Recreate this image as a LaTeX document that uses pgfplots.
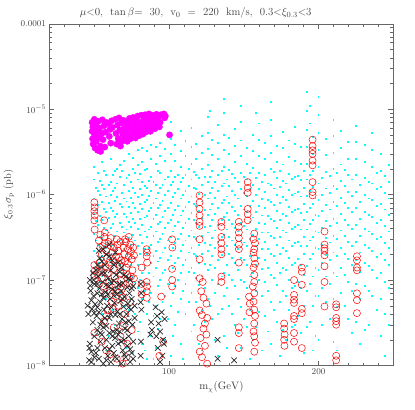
\documentclass[border=0pt]{standalone}
\usepackage{pgfplots}
\pgfplotsset{compat=1.18}
\definecolor{cy}{RGB}{0,255,255}
\definecolor{mg}{RGB}{255,0,255}
\definecolor{rd}{RGB}{255,0,0}
\begin{document}
\begin{tikzpicture}
\begin{axis}[
  name=ax,
  scale only axis,
  width=348bp, height=346bp,
  xmin=20, xmax=250,
  ymode=log, ymin=1e-8, ymax=1e-4,
  xtick={100,200},
  minor xtick={30,40,...,250},
  ytick={1e-8,1e-7,1e-6,1e-5,1e-4},
  yticklabels={$10^{-8}$,$10^{-7}$,$10^{-6}$,$10^{-5}$,$0.0001$},
  axis line style={gray!80!black, line width=0.4pt},
  every tick/.style={gray!80!black, line width=0.4pt},
  major tick length=5bp, minor tick length=3bp,
  tick label style={font=\fontsize{9.5}{11}\selectfont, text=black!75},
  xlabel={$\mathrm{m}_\chi(\mathrm{GeV})$},
  ylabel={$\xi_{0.3}\sigma_{\mathrm{p}}$ (pb)},
  label style={font=\fontsize{10.5}{12}\selectfont, text=black!75},
  title={$\mu{<}0$, \ $\tan\beta{=}$ \ 30, \ $\mathrm{v}_0$ \ = \ 220 \ km/s, \ 0.3${<}\xi_{0.3}{<}$3},
  title style={font=\fontsize{11}{13}\selectfont, text=black!75, xshift=-26bp, yshift=-4bp},
  clip=true,
]
% cyan dots
\addplot[only marks, color=cy, mark=square*, mark size=0.45pt, mark options={draw=cy, fill=cy, line width=0pt}] coordinates {
(50,2.1e-6)(50,1.5e-6)(50,9e-7)(50,6e-7)(50,3.5e-7)(50,2.2e-7)(50,1.4e-7)
(52.5,1.8e-6)(52.5,1.1e-6)(52.5,7.5e-7)(52.5,4.4e-7)(52.5,2.6e-7)(52.5,1.6e-7)(52.5,8e-8)
(55,2.4e-6)(55,1.3e-6)(55,8.2e-7)(55,5.1e-7)(55,3e-7)(55,1.9e-7)(55,1.1e-7)(55,4e-8)
(58,1.7e-6)(58,9.5e-7)(58,6.3e-7)(58,3.8e-7)(58,2.4e-7)(58,1.3e-7)(58,6e-8)(58,1.5e-8)
(61,2.6e-6)(61,1.4e-6)(61,1.0e-6)(61,7e-7)(61,4.1e-7)(61,2.8e-7)(61,1.7e-7)(61,9e-8)
(64,1.9e-6)(64,1.2e-6)(64,8.5e-7)(64,5.5e-7)(64,3.3e-7)(64,2e-7)(64,1.2e-7)(64,3e-8)
(67,2.2e-6)(67,1.6e-6)(67,7.8e-7)(67,4.6e-7)(67,2.9e-7)(67,1.5e-7)(67,7e-8)(67,2e-8)
(70,2.5e-6)(70,1.3e-6)(70,9e-7)(70,6e-7)(70,3.6e-7)(70,2.3e-7)(70,1.3e-7)(70,5e-8)
(73,3.0e-6)(73,1.7e-6)(73,1.1e-6)(73,7.2e-7)(73,4.8e-7)(73,3.1e-7)(73,1.8e-7)(73,1.0e-7)(73,4.5e-8)
(76,2.7e-6)(76,2.0e-6)(76,1.2e-6)(76,8e-7)(76,5.2e-7)(76,3.4e-7)(76,2.1e-7)(76,1.1e-7)(76,3e-8)(76,1.4e-8)
(79,3.3e-6)(79,2.2e-6)(79,1.5e-6)(79,9.3e-7)(79,6.2e-7)(79,4e-7)(79,2.5e-7)(79,1.5e-7)(79,8e-8)(79,2.5e-8)
(82,3.5e-6)(82,2.4e-6)(82,1.4e-6)(82,1.0e-6)(82,6.8e-7)(82,4.4e-7)(82,2.7e-7)(82,1.2e-7)(82,6e-8)(82,1.8e-8)
(85,3.2e-6)(85,2.0e-6)(85,1.2e-6)(85,8.6e-7)(85,5.6e-7)(85,3.2e-7)(85,2.0e-7)(85,9e-8)(85,4e-8)(85,1.2e-8)
(88,3.8e-6)(88,2.6e-6)(88,1.6e-6)(88,1.1e-6)(88,7e-7)(88,4.2e-7)(88,2.6e-7)(88,1.6e-7)(88,7e-8)(88,2.2e-8)
(91,3.6e-6)(91,2.3e-6)(91,1.3e-6)(91,9e-7)(91,5.8e-7)(91,3.7e-7)(91,2.2e-7)(91,1.4e-7)(91,5e-8)(91,1.6e-8)
(94,4.0e-6)(94,2.8e-6)(94,1.8e-6)(94,1.2e-6)(94,7.6e-7)(94,4.8e-7)(94,3e-7)(94,1.8e-7)(94,1.0e-7)(94,3.5e-8)
(97,3.4e-6)(97,2.5e-6)(97,1.5e-6)(97,1.0e-6)(97,6.5e-7)(97,4.1e-7)(97,2.4e-7)(97,1.3e-7)(97,6.5e-8)(97,2e-8)
(101,7e-6)(101,4.5e-6)(101,3e-6)(101,1.9e-6)(101,1.3e-6)(101,8e-7)(101,5e-7)(101,3.2e-7)(101,1.9e-7)(101,1.1e-7)(101,5e-8)(101,1.3e-8)
(104,3.8e-6)(104,2.5e-6)(104,1.6e-6)(104,1.05e-6)(104,6.6e-7)(104,4.3e-7)(104,2.7e-7)(104,1.6e-7)(104,8.5e-8)(104,3e-8)
(108,5.5e-6)(108,3.2e-6)(108,2.1e-6)(108,1.4e-6)(108,9e-7)(108,5.7e-7)(108,3.5e-7)(108,2.2e-7)(108,1.2e-7)(108,6e-8)(108,1.8e-8)
(111,4.2e-6)(111,2.8e-6)(111,1.7e-6)(111,1.1e-6)(111,7.2e-7)(111,4.6e-7)(111,2.9e-7)(111,1.7e-7)(111,9e-8)(111,4e-8)
(115,6.0e-6)(115,3.6e-6)(115,2.3e-6)(115,1.5e-6)(115,9.5e-7)(115,6.1e-7)(115,3.8e-7)(115,2.4e-7)(115,1.4e-7)(115,7e-8)(115,2.5e-8)
(118,3.9e-6)(118,2.6e-6)(118,1.7e-6)(118,1.15e-6)(118,7.4e-7)(118,4.7e-7)(118,3e-7)(118,1.9e-7)(118,1.05e-7)(118,5.5e-8)
(122,4.8e-6)(122,3.1e-6)(122,2e-6)(122,1.3e-6)(122,8.3e-7)(122,5.3e-7)(122,3.3e-7)(122,2e-7)(122,1.1e-7)(122,4.5e-8)(122,1.5e-8)
(126,8e-6)(126,5.2e-6)(126,3.4e-6)(126,2.2e-6)(126,1.4e-6)(126,9e-7)(126,5.8e-7)(126,3.6e-7)(126,2.2e-7)(126,1.3e-7)(126,6e-8)
(129,4.4e-6)(129,2.9e-6)(129,1.9e-6)(129,1.2e-6)(129,7.8e-7)(129,5e-7)(129,3.1e-7)(129,1.9e-7)(129,1.0e-7)(129,3.5e-8)
(133,6.5e-6)(133,4e-6)(133,2.6e-6)(133,1.7e-6)(133,1.1e-6)(133,7e-7)(133,4.4e-7)(133,2.8e-7)(133,1.7e-7)(133,9e-8)(133,4e-8)(133,1.3e-8)
(137,1.3e-5)(137,9e-6)(137,5e-6)(137,3.3e-6)(137,2.1e-6)(137,1.35e-6)(137,8.6e-7)(137,5.5e-7)(137,3.4e-7)(137,2.1e-7)(137,1.2e-7)(137,6.5e-8)(137,2.2e-8)
(140,4.6e-6)(140,3e-6)(140,1.95e-6)(140,1.25e-6)(140,8e-7)(140,5.1e-7)(140,3.2e-7)(140,2e-7)(140,1.15e-7)(140,5e-8)
(144,5.8e-6)(144,3.7e-6)(144,2.4e-6)(144,1.55e-6)(144,1.0e-6)(144,6.4e-7)(144,4.1e-7)(144,2.6e-7)(144,1.6e-7)(144,8.5e-8)(144,3e-8)
(148,1.1e-5)(148,7e-6)(148,4.3e-6)(148,2.8e-6)(148,1.8e-6)(148,1.15e-6)(148,7.3e-7)(148,4.6e-7)(148,2.9e-7)(148,1.8e-7)(148,1.0e-7)(148,4.8e-8)(148,1.6e-8)
(152,3.5e-6)(152,2.3e-6)(152,1.5e-6)(152,9.6e-7)(152,6.2e-7)(152,3.9e-7)(152,2.5e-7)(152,1.5e-7)(152,8e-8)(152,2.8e-8)
(156,5e-6)(156,3.2e-6)(156,2.05e-6)(156,1.3e-6)(156,8.4e-7)(156,5.4e-7)(156,3.4e-7)(156,2.1e-7)(156,1.2e-7)(156,6e-8)(156,2e-8)
(160,6.8e-6)(160,4.4e-6)(160,2.8e-6)(160,1.8e-6)(160,1.15e-6)(160,7.4e-7)(160,4.7e-7)(160,3e-7)(160,1.8e-7)(160,1.0e-7)(160,4.2e-8)
(164,4.0e-6)(164,2.6e-6)(164,1.7e-6)(164,1.08e-6)(164,7e-7)(164,4.5e-7)(164,2.8e-7)(164,1.7e-7)(164,9.5e-8)(164,3.8e-8)
(168,1.2e-5)(168,7.5e-6)(168,4.8e-6)(168,3.1e-6)(168,2e-6)(168,1.28e-6)(168,8.2e-7)(168,5.2e-7)(168,3.3e-7)(168,2.0e-7)(168,1.15e-7)(168,5.5e-8)(168,1.8e-8)
(172,3.7e-6)(172,2.4e-6)(172,1.55e-6)(172,1.0e-6)(172,6.4e-7)(172,4.1e-7)(172,2.6e-7)(172,1.6e-7)(172,8.8e-8)(172,3.2e-8)
(176,5.4e-6)(176,3.5e-6)(176,2.25e-6)(176,1.45e-6)(176,9.3e-7)(176,6e-7)(176,3.8e-7)(176,2.4e-7)(176,1.4e-7)(176,7.5e-8)(176,2.6e-8)
(180,4.3e-6)(180,2.75e-6)(180,1.75e-6)(180,1.12e-6)(180,7.2e-7)(180,4.6e-7)(180,2.9e-7)(180,1.8e-7)(180,1.0e-7)(180,4.5e-8)
(184,6.2e-6)(184,3.9e-6)(184,2.5e-6)(184,1.6e-6)(184,1.03e-6)(184,6.6e-7)(184,4.2e-7)(184,2.7e-7)(184,1.6e-7)(184,8.5e-8)(184,3e-8)
(188,3.6e-6)(188,2.3e-6)(188,1.48e-6)(188,9.5e-7)(188,6.1e-7)(188,3.9e-7)(188,2.5e-7)(188,1.5e-7)(188,8e-8)(188,2.4e-8)
(192,1.6e-5)(192,9.5e-6)(192,5.7e-6)(192,3.6e-6)(192,2.3e-6)(192,1.5e-6)(192,9.6e-7)(192,6.2e-7)(192,3.9e-7)(192,2.5e-7)(192,1.45e-7)(192,7.5e-8)(192,2.8e-8)
(196,4.7e-6)(196,3e-6)(196,1.9e-6)(196,1.22e-6)(196,7.8e-7)(196,5e-7)(196,3.2e-7)(196,2e-7)(196,1.1e-7)(196,5e-8)(196,1.5e-8)
(200,1.4e-5)(200,8.5e-6)(200,5.2e-6)(200,3.3e-6)(200,2.1e-6)(200,1.35e-6)(200,8.7e-7)(200,5.6e-7)(200,3.6e-7)(200,2.3e-7)(200,1.3e-7)(200,6.5e-8)(200,2e-8)
(205,4.5e-6)(205,2.9e-6)(205,1.85e-6)(205,1.18e-6)(205,7.6e-7)(205,4.9e-7)(205,3.1e-7)(205,1.95e-7)(205,1.1e-7)(205,5.5e-8)
(210,7.5e-6)(210,4.8e-6)(210,3.1e-6)(210,2e-6)(210,1.27e-6)(210,8.1e-7)(210,5.2e-7)(210,3.3e-7)(210,2.1e-7)(210,1.2e-7)(210,6e-8)(210,1.9e-8)
(215,5.5e-6)(215,3.5e-6)(215,2.25e-6)(215,1.45e-6)(215,9.2e-7)(215,5.9e-7)(215,3.8e-7)(215,2.4e-7)(215,1.4e-7)(215,7e-8)
(220,4.1e-6)(220,2.6e-6)(220,1.68e-6)(220,1.07e-6)(220,6.9e-7)(220,4.4e-7)(220,2.8e-7)(220,1.75e-7)(220,9.5e-8)(220,3.5e-8)
(225,6.4e-6)(225,4.1e-6)(225,2.6e-6)(225,1.68e-6)(225,1.08e-6)(225,6.9e-7)(225,4.4e-7)(225,2.8e-7)(225,1.7e-7)(225,9e-8)(225,3.2e-8)
(231,3.8e-6)(231,2.4e-6)(231,1.55e-6)(231,1.0e-6)(231,6.3e-7)(231,4e-7)(231,2.6e-7)(231,1.6e-7)(231,8.5e-8)(231,2.6e-8)
(236,5.2e-6)(236,3.3e-6)(236,2.1e-6)(236,1.35e-6)(236,8.6e-7)(236,5.5e-7)(236,3.5e-7)(236,2.2e-7)(236,1.3e-7)(236,6.5e-8)
(242,3.0e-6)(242,1.9e-6)(242,1.22e-6)(242,7.8e-7)(242,5e-7)(242,3.2e-7)(242,2e-7)(242,1.2e-7)(242,6e-8)(242,2.2e-8)
(247,2.2e-6)(247,1.4e-6)(247,9e-7)(247,5.8e-7)(247,3.7e-7)(247,2.4e-7)(247,1.5e-7)(247,8e-8)(247,3e-8)
(51.3,1.2e-6)(51.3,6.7e-7)(51.3,4.9e-7)(51.3,2.9e-7)(51.3,1.2e-7)
(53.8,1.45e-6)(53.8,1.0e-6)(53.8,5.6e-7)(53.8,3.2e-7)(53.8,1.8e-7)(53.8,9.5e-8)
(56.4,1.9e-6)(56.4,1.15e-6)(56.4,6.8e-7)(56.4,4.1e-7)(56.4,2.5e-7)(56.4,6e-8)
(59.6,1.3e-6)(59.6,8e-7)(59.6,5.3e-7)(59.6,3.6e-7)(59.6,2.1e-7)(59.6,1.0e-7)(59.6,2.2e-8)
(62.7,1.7e-6)(62.7,1.1e-6)(62.7,6.4e-7)(62.7,4.5e-7)(62.7,2.6e-7)(62.7,1.5e-7)(62.7,4.5e-8)
(65.4,2.0e-6)(65.4,1.35e-6)(65.4,9.4e-7)(65.4,5.9e-7)(65.4,3.7e-7)(65.4,2.3e-7)(65.4,8e-8)
(68.6,1.9e-6)(68.6,1.05e-6)(68.6,7.1e-7)(68.6,4.2e-7)(68.6,2.7e-7)(68.6,1.6e-7)(68.6,3.5e-8)
(71.5,1.55e-6)(71.5,8.3e-7)(71.5,5.5e-7)(71.5,3.9e-7)(71.5,2.0e-7)(71.5,1.1e-7)(71.5,1.6e-8)
(74.6,1.4e-6)(74.6,9.2e-7)(74.6,6.1e-7)(74.6,4.2e-7)(74.6,2.6e-7)(74.6,1.5e-7)(74.6,6e-8)
(77.4,1.8e-6)(77.4,1.05e-6)(77.4,7e-7)(77.4,4.6e-7)(77.4,2.9e-7)(77.4,1.8e-7)(77.4,9.5e-8)(77.4,4e-8)
(80.6,1.75e-6)(80.6,1.15e-6)(80.6,7.8e-7)(80.6,5.2e-7)(80.6,3.4e-7)(80.6,2.0e-7)(80.6,1.0e-7)(80.6,3.2e-8)
(83.6,1.95e-6)(83.6,1.25e-6)(83.6,8.2e-7)(83.6,5.4e-7)(83.6,3.7e-7)(83.6,2.3e-7)(83.6,1.4e-7)(83.6,7.5e-8)(83.6,1.5e-8)
(86.5,1.45e-6)(86.5,9.7e-7)(86.5,6.4e-7)(86.5,3.9e-7)(86.5,2.4e-7)(86.5,1.2e-7)(86.5,5.5e-8)
(89.6,1.4e-6)(89.6,8e-7)(89.6,5.2e-7)(89.6,3.3e-7)(89.6,1.9e-7)(89.6,1.1e-7)(89.6,3.8e-8)(89.6,1.2e-8)
(92.4,1.9e-6)(92.4,1.05e-6)(92.4,6.9e-7)(92.4,4.5e-7)(92.4,2.8e-7)(92.4,1.65e-7)(92.4,8.5e-8)(92.4,2.7e-8)
(95.6,1.3e-6)(95.6,8.4e-7)(95.6,5.5e-7)(95.6,3.5e-7)(95.6,2.1e-7)(95.6,1.2e-7)(95.6,5.5e-8)
(99,1.6e-6)(99,1.1e-6)(99,6.9e-7)(99,4.6e-7)(99,2.9e-7)(99,1.7e-7)(99,9e-8)(99,3.5e-8)
(102.7,1.4e-6)(102.7,9.3e-7)(102.7,5.8e-7)(102.7,3.7e-7)(102.7,2.4e-7)(102.7,1.4e-7)(102.7,7e-8)(102.7,2.2e-8)
(106.2,1.7e-6)(106.2,1.15e-6)(106.2,7.4e-7)(106.2,4.8e-7)(106.2,3.0e-7)(106.2,1.8e-7)(106.2,1.0e-7)(106.2,4.2e-8)
(109.6,1.55e-6)(109.6,1.0e-6)(109.6,6.4e-7)(109.6,4.1e-7)(109.6,2.6e-7)(109.6,1.5e-7)(109.6,7.5e-8)(109.6,1.2e-8)
(113.2,2.0e-6)(113.2,1.25e-6)(113.2,8.1e-7)(113.2,5.2e-7)(113.2,3.3e-7)(113.2,2.1e-7)(113.2,1.25e-7)(113.2,5.5e-8)
(116.6,1.85e-6)(116.6,1.2e-6)(116.6,7.8e-7)(116.6,5e-7)(116.6,3.2e-7)(116.6,2e-7)(116.6,1.2e-7)(116.6,3e-8)
(120,1.55e-6)(120,1.02e-6)(120,6.5e-7)(120,4.2e-7)(120,2.6e-7)(120,1.6e-7)(120,8.8e-8)(120,1.8e-8)
(124.2,1.6e-6)(124.2,1.0e-6)(124.2,6.6e-7)(124.2,4.2e-7)(124.2,2.7e-7)(124.2,1.55e-7)(124.2,8e-8)(124.2,3.2e-8)
(127.6,9.5e-6)(127.6,1.6e-6)(127.6,1.05e-6)(127.6,6.7e-7)(127.6,4.3e-7)(127.6,2.6e-7)(127.6,1.5e-7)(127.6,5e-8)
(131,1.4e-6)(131,9.2e-7)(131,5.9e-7)(131,3.8e-7)(131,2.4e-7)(131,1.4e-7)(131,7e-8)(131,2e-8)
(135.2,1.9e-6)(135.2,1.25e-6)(135.2,8e-7)(135.2,5.1e-7)(135.2,3.2e-7)(135.2,1.95e-7)(135.2,1.1e-7)(135.2,4.6e-8)
(138.7,1.5e-6)(138.7,9.5e-7)(138.7,6.1e-7)(138.7,3.9e-7)(138.7,2.5e-7)(138.7,1.5e-7)(138.7,8e-8)(138.7,1.6e-8)
(142.2,1.75e-6)(142.2,1.1e-6)(142.2,7.1e-7)(142.2,4.5e-7)(142.2,2.9e-7)(142.2,1.8e-7)(142.2,1e-7)(142.2,4e-8)
(146,1.4e-6)(146,9e-7)(146,5.8e-7)(146,3.7e-7)(146,2.3e-7)(146,1.3e-7)(146,6e-8)(146,2.4e-8)
(150.2,1.6e-6)(150.2,1.05e-6)(150.2,6.7e-7)(150.2,4.3e-7)(150.2,2.75e-7)(150.2,1.7e-7)(150.2,9.5e-8)(150.2,3.5e-8)
(154.2,1.8e-6)(154.2,1.15e-6)(154.2,7.4e-7)(154.2,4.8e-7)(154.2,3.05e-7)(154.2,1.9e-7)(154.2,1.1e-7)(154.2,4.5e-8)(154.2,1.2e-8)
(158.2,9e-6)(158.2,1.55e-6)(158.2,9.8e-7)(158.2,6.3e-7)(158.2,4e-7)(158.2,2.5e-7)(158.2,1.5e-7)(158.2,7.5e-8)(158.2,2.8e-8)
(162,1.4e-6)(162,8.9e-7)(162,5.7e-7)(162,3.6e-7)(162,2.3e-7)(162,1.35e-7)(162,6.5e-8)(162,1.5e-8)
(166,1.35e-6)(166,8.7e-7)(166,5.6e-7)(166,3.6e-7)(166,2.3e-7)(166,1.4e-7)(166,7.5e-8)(166,2.5e-8)
(170,1.85e-6)(170,1.18e-6)(170,7.6e-7)(170,4.9e-7)(170,3.1e-7)(170,1.9e-7)(170,1.05e-7)(170,4.5e-8)
(174.2,1.9e-6)(174.2,1.22e-6)(174.2,7.9e-7)(174.2,5e-7)(174.2,3.2e-7)(174.2,2e-7)(174.2,1.2e-7)(174.2,5.5e-8)(174.2,1.3e-8)
(178.2,1.35e-6)(178.2,8.7e-7)(178.2,5.6e-7)(178.2,3.6e-7)(178.2,2.2e-7)(178.2,1.3e-7)(178.2,6.5e-8)(178.2,2e-8)
(182,1.52e-6)(182,9.8e-7)(182,6.3e-7)(182,4e-7)(182,2.5e-7)(182,1.5e-7)(182,8e-8)(182,2.8e-8)
(186,1.65e-6)(186,1.06e-6)(186,6.8e-7)(186,4.4e-7)(186,2.8e-7)(186,1.75e-7)(186,9.5e-8)(186,3.8e-8)
(190.2,1.9e-6)(190.2,1.2e-6)(190.2,7.8e-7)(190.2,5e-7)(190.2,3.2e-7)(190.2,2e-7)(190.2,1.15e-7)(190.2,5e-8)(190.2,1.4e-8)
(194.2,1.1e-5)(194.2,6.8e-6)(194.2,1.7e-6)(194.2,1.1e-6)(194.2,7e-7)(194.2,4.5e-7)(194.2,2.9e-7)(194.2,1.75e-7)(194.2,9e-8)(194.2,3.2e-8)
(198,1.4e-6)(198,9e-7)(198,5.8e-7)(198,3.7e-7)(198,2.35e-7)(198,1.4e-7)(198,6.5e-8)(198,2.2e-8)
(202.5,1.55e-6)(202.5,1e-6)(202.5,6.4e-7)(202.5,4.1e-7)(202.5,2.6e-7)(202.5,1.6e-7)(202.5,8e-8)(202.5,3e-8)
(207.5,1.65e-6)(207.5,1.05e-6)(207.5,6.7e-7)(207.5,4.3e-7)(207.5,2.75e-7)(207.5,1.7e-7)(207.5,9e-8)(207.5,3.5e-8)
(212.5,1.8e-6)(212.5,1.15e-6)(212.5,7.3e-7)(212.5,4.7e-7)(212.5,3e-7)(212.5,1.9e-7)(212.5,1.1e-7)(212.5,4.8e-8)(212.5,1.5e-8)
(217.5,1.95e-6)(217.5,1.25e-6)(217.5,8e-7)(217.5,5.1e-7)(217.5,3.3e-7)(217.5,2e-7)(217.5,1.15e-7)(217.5,5e-8)
(222.5,1.5e-6)(222.5,9.7e-7)(222.5,6.2e-7)(222.5,4e-7)(222.5,2.5e-7)(222.5,1.5e-7)(222.5,7.5e-8)(222.5,2.4e-8)
(228,1.28e-6)(228,8.2e-7)(228,5.2e-7)(228,3.3e-7)(228,2.1e-7)(228,1.25e-7)(228,6e-8)(228,1.8e-8)
(233.5,1.4e-6)(233.5,9e-7)(233.5,5.8e-7)(233.5,3.7e-7)(233.5,2.35e-7)(233.5,1.45e-7)(233.5,7.5e-8)(233.5,3e-8)
(239,1.8e-6)(239,1.15e-6)(239,7.3e-7)(239,4.7e-7)(239,3e-7)(239,1.85e-7)(239,1.05e-7)(239,4.5e-8)
(244.5,1.65e-6)(244.5,1.05e-6)(244.5,6.7e-7)(244.5,4.3e-7)(244.5,2.7e-7)(244.5,1.7e-7)(244.5,9.5e-8)(244.5,4e-8)(244.5,1.3e-8)
};
% red open circles
\addplot[only marks, mark=o, mark size=3.6pt, color=rd, mark options={line width=0.5pt}] coordinates {
(53,2.9e-7)(54,2.4e-7)(55,2.0e-7)(53.5,1.6e-7)(54.5,1.3e-7)(55,1.05e-7)(56,8.5e-8)(57,2.7e-7)(58,2.2e-7)(58.5,1.8e-7)
(57.5,1.45e-7)(59,1.2e-7)(60,9.5e-8)(60.5,7.5e-8)(61,2.5e-7)(62,2.1e-7)(62.5,1.7e-7)(63,1.35e-7)(63.5,1.1e-7)(64,8.8e-8)
(65,3.0e-7)(65.5,2.6e-7)(66,2.2e-7)(66.5,1.85e-7)(67,1.5e-7)(67.5,1.2e-7)(68,9.8e-8)(68.5,7.8e-8)(69,6.3e-8)(69.5,2.4e-7)
(70,2.0e-7)(70.5,1.65e-7)(71,2.8e-7)(71.5,1.4e-7)(72,1.15e-7)(72.5,2.3e-7)(73,1.9e-7)(73.5,9.2e-8)(74,2.6e-7)(74.5,2.15e-7)
(75,1.75e-7)(75.5,1.3e-7)(76,2.4e-7)(76.5,1.95e-7)(64.5,6.5e-8)(61.5,5.6e-8)(66,5.0e-8)(59,4.4e-8)(70.5,4.0e-8)(74,5.5e-8)
(56.5,3.3e-8)(63,2.8e-8)(67.5,2.2e-8)(72,1.8e-8)(58,1.5e-8)(65,1.2e-8)(69,1.05e-8)
(54,3.4e-7)(59.5,2.8e-7)(63,2.4e-7)(67.5,2.8e-7)(68,1.7e-7)(72.5,1.55e-7)(74.5,1.1e-7)(76.5,1.05e-7)(62,8.2e-8)(57,6.8e-8)
(66.5,7.2e-8)(71,8.8e-8)(60,1.6e-7)(64.5,1.9e-7)(55.5,2.5e-7)(73,3.2e-7)(52.5,1.25e-7)(53,9e-8)(58,3.8e-8)(62.5,4.6e-8)
(69,2.9e-8)(75,2.6e-8)(55,1.9e-8)(60.5,1.35e-8)(71.5,1.25e-8)
(50,8.1e-7)(50.2,7.1e-7)(50,6.4e-7)(50.3,5.7e-7)(50,5.0e-7)(50.2,3.9e-7)(50,1.5e-7)(50.4,1.3e-7)(50,1.15e-7)(50.2,1.0e-7)(50,2.4e-8)
(56.6,5.0e-7)(57,3.6e-7)(56.8,3.2e-7)(61,3.1e-7)(70.5,3.0e-7)
(85,2.3e-7)(85.2,2.1e-7)(85,1.9e-7)(85.3,1.6e-7)(85,9.5e-8)(85.2,8.4e-8)(85,7.4e-8)(85.1,6.2e-8)(81.6,1.4e-7)(81.6,9e-8)(81.6,6.8e-8)
(94.7,6.4e-8)(96,1.9e-8)(93.5,1.3e-8)
(102,3.0e-7)(102.2,2.4e-7)(102,1.35e-7)(102.1,1.0e-7)(102,8.4e-8)
(120.4,9.8e-7)(120.4,8.1e-7)(120.4,6.8e-7)(120.4,5.7e-7)(120.4,4.8e-7)(120.4,4.3e-7)(120.4,3.0e-7)(120.4,1.75e-7)(120.5,1.05e-7)
(122.5,9.5e-8)(121.5,7.4e-8)(123,6.2e-8)(125,5.3e-8)(120.5,4.4e-8)(122,3.9e-8)(125.5,3.6e-8)(124,3.1e-8)(123,2.7e-8)(125,2.3e-8)
(121,2.1e-8)(124,1.7e-8)(120.5,1.45e-8)(122,1.25e-8)(125.5,1.05e-8)
(135,4.8e-7)(135,4.2e-7)(135,3.2e-7)(135,2.7e-7)(135,2.3e-7)(135,2.0e-7)(135,1.1e-7)(135,9.5e-8)
(146.7,4.8e-7)(146.7,4.2e-7)(146.7,3.6e-7)(146.7,3.1e-7)(146.7,2.6e-7)(146.7,2.3e-7)(146.7,1.6e-7)(146.7,2.8e-8)(146.7,2.4e-8)(146.7,1.6e-8)
(152.6,1.4e-6)(152.6,1.2e-6)(152.6,1.05e-6)(152.6,6.8e-7)(152.6,5.9e-7)(152.6,5.0e-7)
(157,3.5e-7)(156.5,3.0e-7)(157.5,2.7e-7)(157,2.3e-7)(156.5,2.1e-7)(157,1.8e-7)(157.5,1.55e-7)(156.5,1.4e-7)(157,1.15e-7)(157,9.5e-8)
(156,8.4e-8)(157,7e-8)(156.5,5.6e-8)(157,4.5e-8)(157.5,3.8e-8)(157,3.1e-8)(156.5,2.5e-8)(157,2.2e-8)(157.5,1.85e-8)(157,1.45e-8)
(153.5,6.4e-8)(154,5.3e-8)(153.8,4.2e-8)
(177,3.1e-8)(177,2.7e-8)(177.3,2.3e-8)(177,2.0e-8)(177.2,1.7e-8)
(183.6,1.0e-7)(183.6,6.7e-8)(183.6,5.9e-8)(183.6,5.4e-8)(183.6,3.8e-8)(183.6,3.5e-8)(183.6,2.4e-8)(183.6,1.9e-8)
(188.8,1.4e-7)(188.8,1.25e-7)(188.8,8.8e-8)(188.8,4.6e-8)(188.8,4.1e-8)(188.8,1.6e-8)
(196,4.4e-6)(196,3.7e-6)(196,3.3e-6)(196,3.0e-6)(196,2.5e-6)(196,2.2e-6)(196,1.4e-6)(196,1.07e-6)(196,9.8e-7)
(204,3.7e-7)(204,2.6e-7)(204,2.35e-7)(204,2.2e-7)(204,1.95e-7)(204,1.45e-7)(204,9.5e-8)(204,4.9e-8)
(211.8,5.2e-8)(211.8,4.8e-8)(211.8,3.6e-8)(211.8,3.3e-8)(211.8,3.0e-8)(211.8,1.3e-8)(211.8,1.15e-8)
(225.7,1.9e-7)(225.7,1.7e-7)(225.7,1.4e-7)(225.7,1.3e-7)(225.7,7.0e-8)(225.7,5.8e-8)(225.7,4.1e-8)
};
% black crosses
\addplot[only marks, mark=x, mark size=4pt, color=black!85, mark options={line width=0.7pt}] coordinates {
(53,2.2e-7)(53.5,1.8e-7)(56,2.3e-7)(58,2.0e-7)(60,2.6e-7)(62,1.7e-7)(64,2.1e-7)(57,1.5e-7)(66,1.6e-7)
(47,1.0e-7)(47.5,7.5e-8)(48,5.8e-8)(48.5,4.6e-8)(47.2,8.6e-8)(49,1.2e-7)(49.5,6.5e-8)(50,9.0e-8)(50.5,5.2e-8)(51,1.3e-7)
(51.5,3.8e-8)(52,7.0e-8)(52.5,1.1e-7)(53,4.2e-8)(53.5,8.0e-8)(54,5.5e-8)(54.5,1.4e-7)(55,3.3e-8)(55.5,9.5e-8)(56,6.2e-8)
(56.5,4.5e-8)(57,1.2e-7)(57.5,7.2e-8)(58,2.9e-8)(58.5,5.0e-8)(59,1.05e-7)(59.5,8.4e-8)(60,3.6e-8)(60.5,6.0e-8)(61,1.3e-7)
(61.5,4.8e-8)(62,7.8e-8)(62.5,2.5e-8)(63,9.8e-8)(63.5,5.4e-8)(64,3.9e-8)(64.5,1.15e-7)(65,6.8e-8)(65.5,4.3e-8)(66,8.8e-8)
(66.5,3.1e-8)(67,1.25e-7)(67.5,5.7e-8)(68,7.4e-8)(68.5,3.5e-8)(69,9.2e-8)(69.5,4.9e-8)(70,6.4e-8)(70.5,2.7e-8)(71,1.1e-7)
(71.5,4.0e-8)(72,8.2e-8)(72.5,5.3e-8)(73,3.3e-8)(73.5,7.0e-8)(74,1.0e-7)(74.5,4.5e-8)(75,6.0e-8)(75.5,3.0e-8)(76,8.5e-8)(77,5.0e-8)
(47,1.8e-8)(48,1.1e-8)(50,2.2e-8)(51,1.4e-8)(52,2.6e-8)(53,1.2e-8)(54,1.9e-8)(55,2.3e-8)(56,1.05e-8)(57,1.6e-8)
(58,2.0e-8)(59,1.3e-8)(60,2.4e-8)(61,1.1e-8)(62,1.7e-8)(63,1.4e-8)(64,2.1e-8)(65,1.2e-8)(66,1.8e-8)(67,2.5e-8)
(68,1.05e-8)(69,1.5e-8)(70,2.0e-8)(71,1.25e-8)(72,1.7e-8)(73,2.2e-8)(74,1.1e-8)(75,1.4e-8)(76,1.9e-8)
(46.7,1.6e-8)(46.5,1.15e-8)(45.5,5.0e-8)(46,4.0e-8)
(49,3.2e-8)(50,4.1e-8)(52,4.8e-8)(54,3.0e-8)(55,6.8e-8)(57,3.6e-8)(59,6.8e-8)(61,4.0e-8)(63,6.6e-8)(65,2.6e-8)
(67,4.0e-8)(69,6.0e-8)(71,3.2e-8)(73,4.8e-8)(75,8.0e-8)(77,3.6e-8)(48,1.45e-8)(50,1.25e-8)(52,1.6e-8)(54,2.4e-8)
(56,2.8e-8)(58,1.15e-8)(60,1.55e-8)(62,2.2e-8)(64,1.25e-8)(66,2.3e-8)(68,1.9e-8)(70,1.35e-8)(72,2.6e-8)(74,1.55e-8)
(76,1.2e-8)(49.5,1.0e-7)(52,9e-8)(55,1.2e-7)(58,8.8e-8)(61,9.5e-8)(64,7.4e-8)(67,9.0e-8)(70,1.15e-7)(73,1.05e-7)
(60,1.9e-7)(63,1.5e-7)(55,1.65e-7)(68,1.4e-7)(52,1.5e-7)
(81,9e-8)(81.3,7e-8)(81,5.5e-8)(81.5,4.5e-8)(81.2,1.9e-8)(81,1.3e-8)
(88,3.2e-8)(88.5,2.6e-8)(87.5,2.3e-8)
(91,4.8e-8)(92,3.8e-8)(93,3.1e-8)(94,2.5e-8)(95,4.2e-8)(96,2.0e-8)(92.5,1.6e-8)(95.5,1.3e-8)(94,1.1e-8)(97,3.5e-8)(91.5,2.2e-8)(96.5,1.8e-8)
(132.5,2.0e-8)(132.5,1.2e-8)(143.5,1.15e-8)
};
% magenta filled circles
\addplot[only marks, mark=*, mark size=3.2pt, color=mg, mark options={draw=mg, fill=mg}] coordinates {
(48.5,7.0e-6)(48.5,5.5e-6)(48.8,4.5e-6)(49,6.2e-6)(49.2,3.9e-6)(50,7.6e-6)(50.2,5.0e-6)(50.5,3.5e-6)(51,6.6e-6)(51.3,4.2e-6)
(52,5.6e-6)(52.2,3.3e-6)(52.5,7.2e-6)(53,4.7e-6)(53.5,6.0e-6)(54,3.7e-6)(54.2,3.2e-6)(55,5.2e-6)(55.3,7.5e-6)(55.8,4.4e-6)
(56.5,6.4e-6)(57,3.6e-6)(57.5,5.4e-6)(58,7.0e-6)
(59.5,6.8e-6)(60,4.8e-6)(60.5,5.8e-6)(61,4.0e-6)(61.5,7.3e-6)(62,6.1e-6)(64,7.6e-6)(64.5,5.2e-6)(65,3.9e-6)(65.5,6.5e-6)
(66,4.5e-6)(66.5,7.9e-6)(67,5.7e-6)(67.5,3.7e-6)(68,6.9e-6)(68.5,4.2e-6)(69,5.0e-6)(69.5,7.4e-6)(70,6.0e-6)(70.5,4.6e-6)
(71,5.4e-6)(71.5,7.0e-6)(72,4.2e-6)(72.5,6.3e-6)(73,5.0e-6)(73.5,7.8e-6)(74,4.5e-6)(74.5,5.8e-6)(75,6.8e-6)(75.5,4.8e-6)
(76,8.0e-6)(76.5,5.5e-6)(77,6.4e-6)(77.5,4.6e-6)(78,7.3e-6)(78.5,5.2e-6)(79,8.3e-6)(79.5,6.0e-6)(80,4.9e-6)(80.5,7.0e-6)
(81,5.6e-6)(81.5,8.5e-6)(82,6.5e-6)(82.5,5.1e-6)(83,7.5e-6)(83.5,6.0e-6)(84,8.6e-6)(84.5,5.4e-6)(85,6.8e-6)(85.5,7.9e-6)
(86,5.8e-6)(86.5,8.8e-6)(87,6.3e-6)(87.5,5.5e-6)(88,7.4e-6)(88.5,8.5e-6)(89,6.0e-6)(89.5,6.9e-6)(90,8.0e-6)(90.5,5.9e-6)
(91,7.2e-6)(91.5,8.7e-6)(92,6.4e-6)(92.5,7.7e-6)(93,8.4e-6)(93.5,6.2e-6)(94,7.0e-6)(94.5,8.6e-6)(96.5,8.8e-6)(97,7.9e-6)
(97.5,8.3e-6)(100.3,5.0e-6)
};
\end{axis}
\path (-45bp,-45bp) rectangle (370bp,370bp);
\end{tikzpicture}
\end{document}
